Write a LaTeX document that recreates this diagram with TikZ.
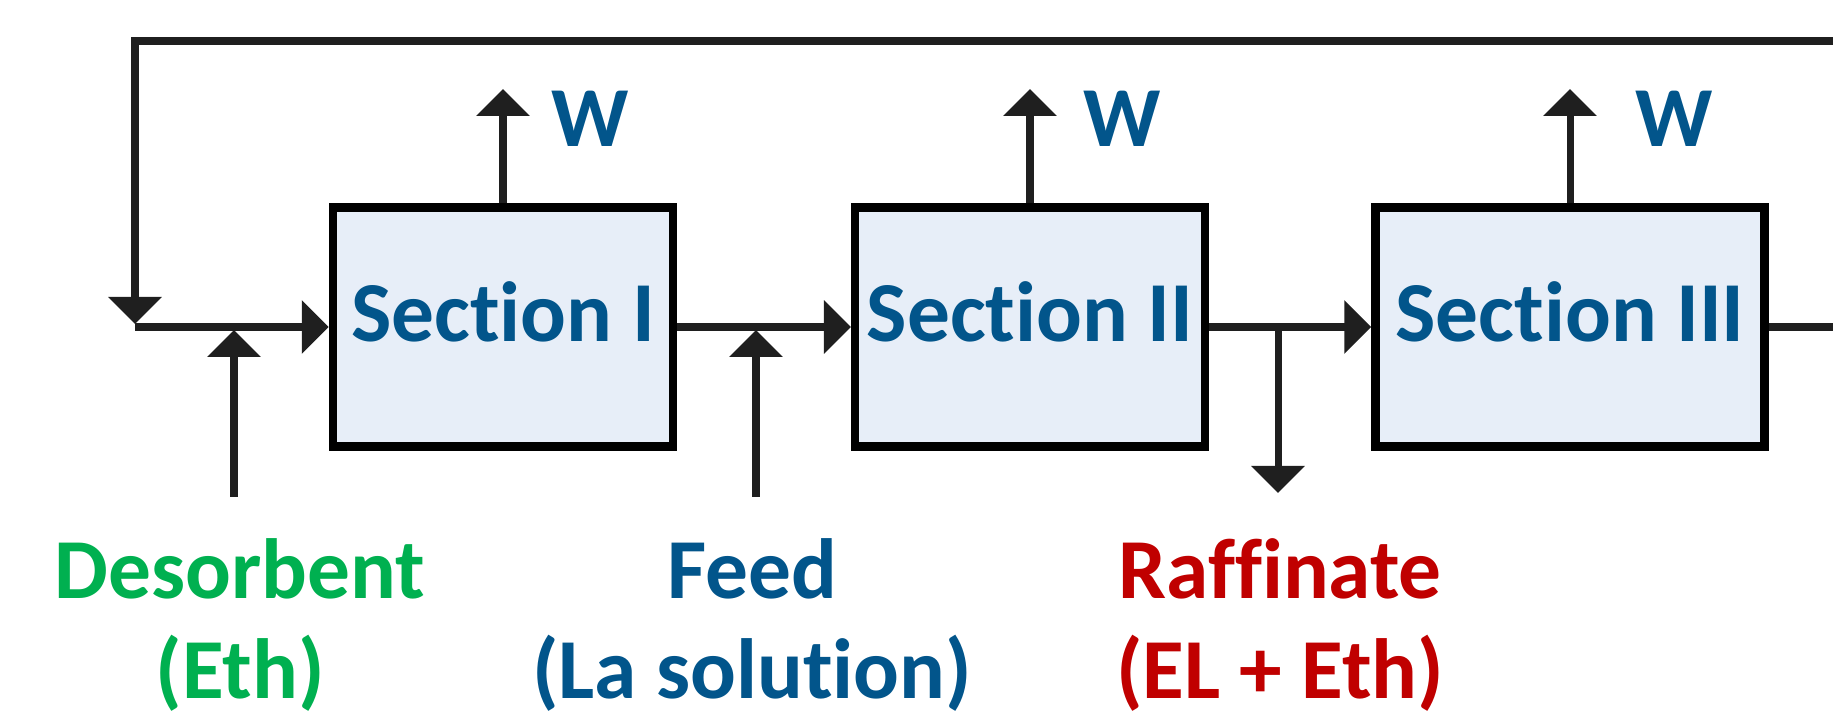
\documentclass[tikz,border=0pt]{standalone}
\usepackage{fontspec}
\setmainfont{Carlito}[Ligatures=NoCommon, RawFeature={-liga;-clig;-calt;-dlig}]
\usetikzlibrary{arrows.meta}

\definecolor{secblue}{HTML}{02558B}
\definecolor{desgreen}{HTML}{00B050}
\definecolor{rafred}{HTML}{C00000}
\definecolor{secfill}{HTML}{E7EEF8}

\begin{document}
\begin{tikzpicture}[
    flow/.style={line width=2pt, black!88},
    tip/.style={-{Triangle[length=0.27cm, width=0.52cm]}},
    section/.style={draw=black, line width=2.4pt, fill=secfill,
      minimum height=2.39cm, text height=0.55cm, text depth=0.26cm,
      font=\fontsize{24.3}{28.5}\selectfont\bfseries, text=secblue},
    stream/.style={font=\fontsize{24.3}{28.5}\selectfont\bfseries, align=center}
  ]
  \useasboundingbox (0,0) rectangle (18.33,7.10);
  % the three sections of the loop
  \node[section, minimum width=3.40cm] (S1) at (5.03,3.83) {Section I};
  \node[section, minimum width=3.47cm] (S2) at (10.30,3.83) {Section II};
  \node[section, minimum width=3.89cm] (S3) at (15.70,3.83) {Section III};
  % recycle line over the top
  \coordinate (TR) at (18.33,6.69);
  \coordinate (TL) at (1.35,6.69);
  \coordinate (C) at (1.35,3.86);
  \coordinate (J) at (1.35,3.83);
  \coordinate (MR) at (18.33,3.83);
  \draw[flow, tip] (TR) -- (TL) -- (C);
  % main stream through the sections
  \draw[flow, tip] (J) -- (S1.west);
  \draw[flow, tip] (S1.east) -- (S2.west);
  \draw[flow, tip] (S2.east) -- (S3.west);
  \draw[flow] (S3.east) -- (MR);
  % water drawn off each section
  \coordinate (W1) at (5.03,6.21);
  \coordinate (W2) at (10.30,6.21);
  \coordinate (W3) at (15.70,6.21);
  \draw[flow, tip] (S1.north) -- (W1);
  \draw[flow, tip] (S2.north) -- (W2);
  \draw[flow, tip] (S3.north) -- (W3);
  \node[stream, text=secblue] (w1) at (5.90,5.91) {W};
  \node[stream, text=secblue] (w2) at (11.22,5.91) {W};
  \node[stream, text=secblue] (w3) at (16.74,5.91) {W};
  % inlets and outlet
  \coordinate (Din) at (2.34,3.80);
  \coordinate (Dfoot) at (2.34,2.13);
  \coordinate (Fin) at (7.56,3.80);
  \coordinate (Ffoot) at (7.56,2.13);
  \coordinate (Rout) at (12.78,3.83);
  \coordinate (Rfoot) at (12.78,2.17);
  \draw[flow, tip] (Dfoot) -- (Din);
  \draw[flow, tip] (Ffoot) -- (Fin);
  \draw[flow, tip] (Rout) -- (Rfoot);
  \node[stream, text=desgreen] (des) at (2.40,0.85) {Desorbent\\(Eth)};
  \node[stream, text=secblue] (feed) at (7.52,0.85) {Feed\\(La solution)};
  \node[stream, text=rafred] (raf) at (12.80,0.85) {Raffinate\\(EL + Eth)};
\end{tikzpicture}
\end{document}
